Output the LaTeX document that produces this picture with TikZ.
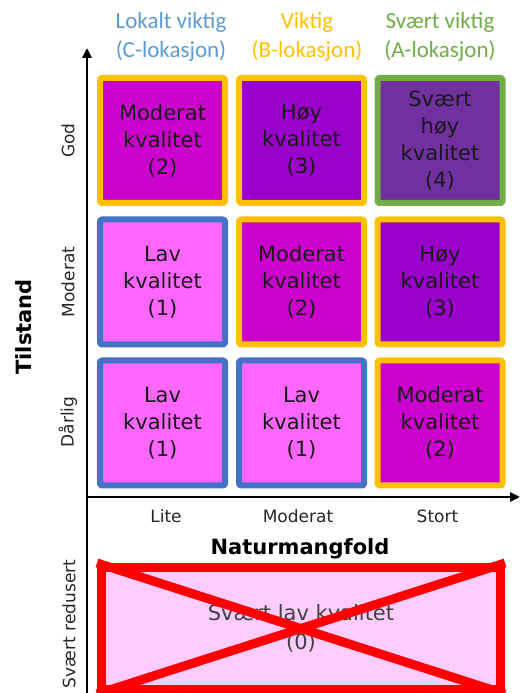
\documentclass[tikz,border=0pt]{standalone}
\usepackage{fontspec}
\setmainfont{DejaVu Sans}
\newfontfamily\calibrifont{Carlito}
\usetikzlibrary{arrows.meta, positioning}
\usepackage{xcolor}
\definecolor{lokorange}{RGB}{255,192,0}
\definecolor{lokblue}{RGB}{68,114,196}
\definecolor{lokgreen}{RGB}{112,173,71}
\definecolor{textblue}{RGB}{91,155,213}
\definecolor{lavpink}{RGB}{255,102,255}
\definecolor{modmagenta}{RGB}{204,0,204}
\definecolor{hoypurple}{RGB}{153,0,204}
\definecolor{toppurple}{RGB}{112,48,160}
\definecolor{nullpink}{RGB}{255,204,255}
\definecolor{crossred}{RGB}{255,0,0}

\begin{document}
\begin{tikzpicture}[
                line join=bevel,
                cellnode/.style={shape=rectangle, minimum width=125pt, minimum height=125pt, line width=6pt, rounded corners=2pt, align=center, text=black!90, font=\fontsize{21}{27}\selectfont},
                lavnode/.style={cellnode, fill=lavpink},
                moderatnode/.style={cellnode, fill=modmagenta},
                hoynode/.style={cellnode, fill=hoypurple},
                toppnode/.style={cellnode, fill=toppurple},
                clok/.style={draw=lokblue},
                blok/.style={draw=lokorange},
                alok/.style={draw=lokgreen},
                toplabel/.style={align=center, font=\calibrifont\fontsize{23}{29}\selectfont},
                ticklabel/.style={font=\fontsize{17}{20}\selectfont, text=black!85},
                axislabel/.style={font=\bfseries\fontsize{21}{25}\selectfont},
                axisline/.style={line width=2.5pt, -{Triangle[length=10pt, width=9pt]}}
                ]
                \useasboundingbox (0pt, 0pt) rectangle (520pt, 693pt);

                %% Column headings
                \node[toplabel, text=textblue] (headc) at (171pt, 656pt) {Lokalt viktig\\(C-lokasjon)};
                \node[toplabel, text=lokorange] (headb) at (307pt, 656pt) {Viktig\\(B-lokasjon)};
                \node[toplabel, text=lokgreen] (heada) at (440pt, 656pt) {Svært viktig\\(A-lokasjon)};

                %% Cells
                \node[moderatnode, blok] (god1) at (162.5pt, 552.5pt) {Moderat\\kvalitet\\(2)};
                \node[hoynode, blok] (god2) at (301.5pt, 552.5pt) {Høy\\kvalitet\\(3)};
                \node[toppnode, alok] (god3) at (440pt, 552.5pt) {Svært\\høy\\kvalitet\\(4)};

                \node[lavnode, clok] (mod1) at (162.5pt, 411pt) {Lav\\kvalitet\\(1)};
                \node[moderatnode, blok] (mod2) at (301.5pt, 411pt) {Moderat\\kvalitet\\(2)};
                \node[hoynode, blok] (mod3) at (440pt, 411pt) {Høy\\kvalitet\\(3)};

                \node[lavnode, clok] (dar1) at (162.5pt, 270pt) {Lav\\kvalitet\\(1)};
                \node[lavnode, clok] (dar2) at (301.5pt, 270pt) {Lav\\kvalitet\\(1)};
                \node[moderatnode, blok] (dar3) at (440pt, 270pt) {Moderat\\kvalitet\\(2)};

                %% Axes
                \coordinate (origin) at (87pt, 196pt);
                \coordinate (ybottom) at (87pt, -2pt);
                \coordinate (ytip) at (87pt, 645pt);
                \coordinate (xtip) at (520pt, 196pt);
                \draw[axisline] (ybottom) -- (ytip);
                \draw[axisline] (origin) -- (xtip);

                % Axis Graduation
                \node[ticklabel, rotate=90] (god) at (68pt, 552.5pt) {God};
                \node[ticklabel, rotate=90] (moderat) at (68pt, 411pt) {Moderat};
                \node[ticklabel, rotate=90] (darlig) at (68pt, 271pt) {Dårlig};
                \node[ticklabel, rotate=90] (redusert) at (69pt, 622pt-553pt) {Svært redusert};
                \node[ticklabel, anchor=base] (lite) at (166pt, 170pt) {Lite};
                \node[ticklabel, anchor=base] (middels) at (298pt, 170pt) {Moderat};
                \node[ticklabel, anchor=base] (stort) at (437.5pt, 170pt) {Stort};

                \node[axislabel, rotate=90] (tilstand) at (24pt, 366pt) {Tilstand};
                \node[axislabel, anchor=base] (naturmangfold) at (300pt, 138pt) {Naturmangfold};

                %% Very reduced condition
                \node[shape=rectangle, fill=nullpink, draw=crossred, line width=9pt, minimum width=399pt, minimum height=122pt, align=center, text=black!75, font=\fontsize{21}{29}\selectfont] (null) at (301pt, 64.5pt) {Svært lav kvalitet\\(0)};
                \draw[crossred, line width=9pt] (null.north west) -- (null.south east);
                \draw[crossred, line width=9pt] (null.north east) -- (null.south west);
\end{tikzpicture}
\end{document}
